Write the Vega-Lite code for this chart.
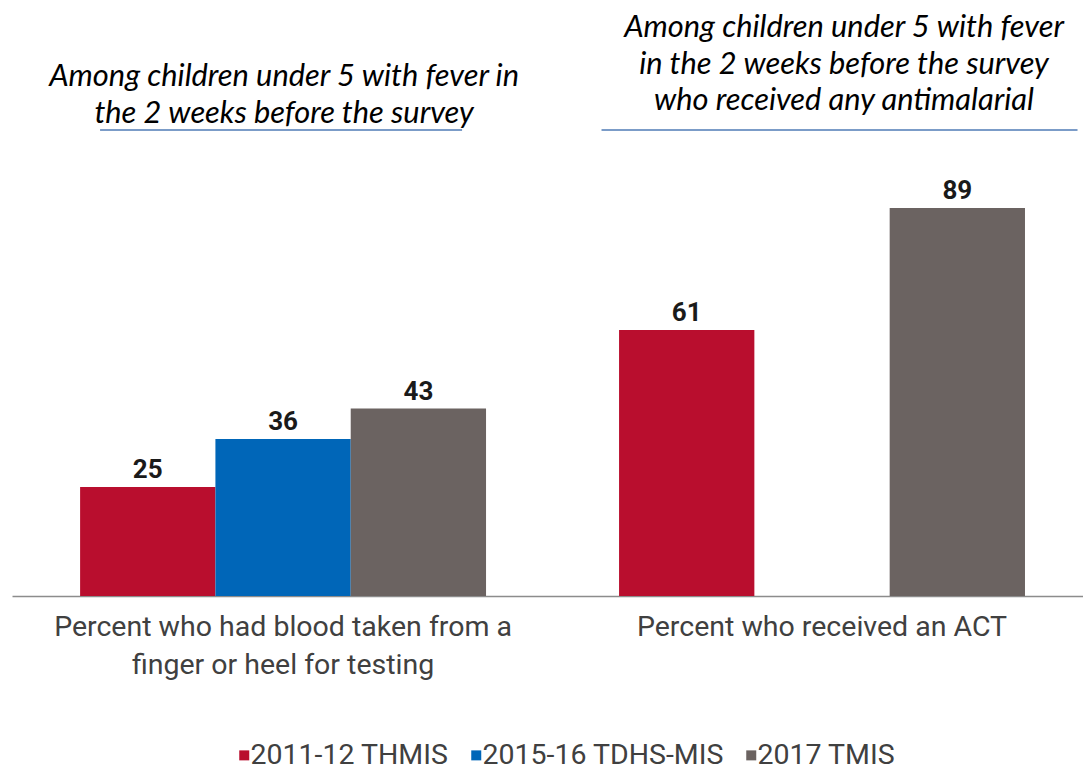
{
  "$schema": "https://vega.github.io/schema/vega-lite/v6.json",
  "width": 1071,
  "height": 596,
  "autosize": {"type": "none"},
  "padding": {"left": 12, "top": 0, "right": 0, "bottom": 176},
  "background": "white",
  "config": {"view": {"stroke": null}, "font": "Roboto"},
  "datasets": {
    "bars": [
      {"group": "Percent who had blood taken from a finger or heel for testing", "survey": "2011-12 THMIS", "value": 25},
      {"group": "Percent who had blood taken from a finger or heel for testing", "survey": "2015-16 TDHS-MIS", "value": 36},
      {"group": "Percent who had blood taken from a finger or heel for testing", "survey": "2017 TMIS", "value": 43},
      {"group": "Percent who received an ACT", "survey": "2011-12 THMIS", "value": 61},
      {"group": "Percent who received an ACT", "survey": "2017 TMIS", "value": 89}
    ],
    "headers": [
      {"group": "Percent who had blood taken from a finger or heel for testing", "header": "Among children under 5 with fever in\nthe 2 weeks before the survey"},
      {"group": "Percent who received an ACT", "header": "Among children under 5 with fever\nin the 2 weeks before the survey\nwho received any antimalarial"}
    ]
  },
  "encoding": {
    "x": {
      "field": "group",
      "type": "nominal",
      "sort": null,
      "scale": {"type": "band", "paddingInner": 0.2468, "paddingOuter": 0.117, "align": 0.54},
      "axis": {
        "title": null,
        "labelAngle": 0,
        "ticks": false,
        "tickSize": 0,
        "domainColor": "#8c8c8c",
        "domainWidth": 1.5,
        "labelFont": "Roboto",
        "labelFontSize": 28.5,
        "labelColor": "#404040",
        "labelLineHeight": 38,
        "labelPadding": 16,
        "labelLimit": 1000,
        "labelBaseline": "top",
        "labelExpr": "datum.label == 'Percent who had blood taken from a finger or heel for testing' ? ['Percent who had blood taken from a', 'finger or heel for testing'] : datum.label"
      }
    }
  },
  "layer": [
    {
      "data": {"name": "bars"},
      "mark": {"type": "bar"},
      "encoding": {
        "xOffset": {
          "field": "survey",
          "type": "nominal",
          "scale": {"domain": ["2011-12 THMIS", "2015-16 TDHS-MIS", "2017 TMIS"], "paddingInner": 0, "paddingOuter": 0}
        },
        "y": {"field": "value", "type": "quantitative", "scale": {"domain": [0, 136.7], "nice": false}, "axis": null},
        "color": {
          "field": "survey",
          "type": "nominal",
          "scale": {"domain": ["2011-12 THMIS", "2015-16 TDHS-MIS", "2017 TMIS"], "range": ["#b90e2e", "#0066b8", "#6b6361"]},
          "legend": {
            "orient": "none",
            "legendX": 218,
            "legendY": 741,
            "direction": "horizontal",
            "title": null,
            "symbolType": "square",
            "symbolSize": 100,
            "symbolStrokeWidth": 0,
            "labelFont": "Roboto",
            "labelFontSize": 28.5,
            "labelColor": "#404040",
            "labelLimit": 600,
            "labelOffset": -8,
            "columnPadding": 13,
            "padding": 0
          }
        }
      }
    },
    {
      "data": {"name": "bars"},
      "mark": {"type": "text", "dy": -9, "baseline": "alphabetic", "align": "center", "font": "Roboto", "fontSize": 26, "fontWeight": "bold", "color": "#1a1a1a"},
      "encoding": {
        "xOffset": {"field": "survey", "type": "nominal"},
        "y": {"field": "value", "type": "quantitative"},
        "text": {"field": "value", "type": "quantitative"}
      }
    },
    {
      "data": {"name": "headers"},
      "transform": [{"filter": "datum.group == 'Percent who had blood taken from a finger or heel for testing'"}],
      "layer": [
        {
          "mark": {"type": "text", "font": "Lato", "fontStyle": "italic", "fontSize": 30.8, "lineBreak": "\n", "lineHeight": 36.7, "align": "center", "baseline": "alphabetic", "color": "#000000", "xOffset": 1},
          "encoding": {"y": {"datum": 116.97, "type": "quantitative"}, "text": {"field": "header"}}
        },
        {
          "mark": {"type": "tick", "orient": "horizontal", "size": 362, "thickness": 2, "color": "#4372b0", "xOffset": -2},
          "encoding": {"y": {"datum": 106.9, "type": "quantitative"}}
        }
      ]
    },
    {
      "data": {"name": "headers"},
      "transform": [{"filter": "datum.group == 'Percent who received an ACT'"}],
      "layer": [
        {
          "mark": {"type": "text", "font": "Lato", "fontStyle": "italic", "fontSize": 30.8, "lineBreak": "\n", "lineHeight": 36.7, "align": "center", "baseline": "alphabetic", "color": "#000000", "xOffset": 22},
          "encoding": {"y": {"datum": 128.2, "type": "quantitative"}, "text": {"field": "header"}}
        },
        {
          "mark": {"type": "tick", "orient": "horizontal", "size": 476, "thickness": 2, "color": "#4372b0", "xOffset": 17.5},
          "encoding": {"y": {"datum": 106.9, "type": "quantitative"}}
        }
      ]
    }
  ]
}
